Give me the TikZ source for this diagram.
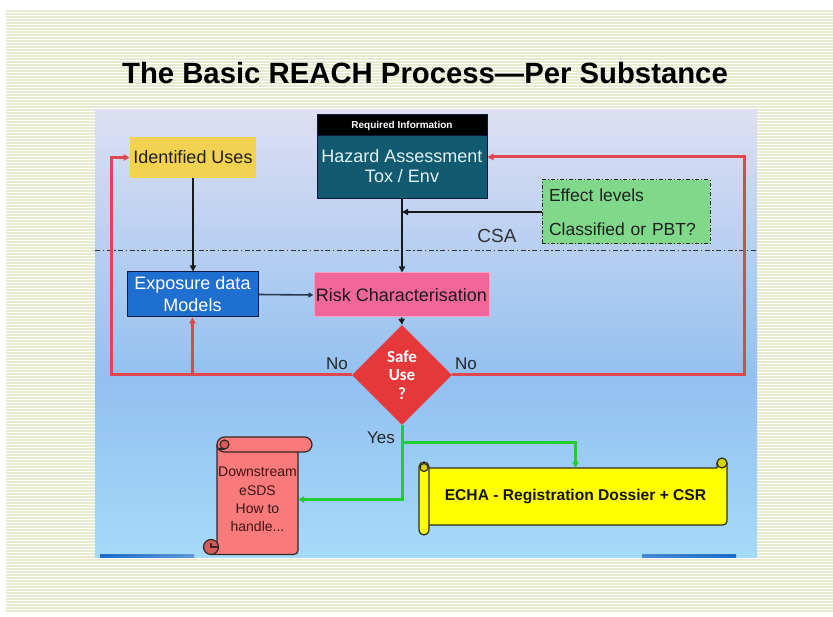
\documentclass[tikz,border=0pt]{standalone}
\usepackage{fontspec}
\setmainfont{Liberation Sans}
\newfontfamily\calfont{Carlito}
\usetikzlibrary{arrows.meta,shapes.geometric}

\definecolor{stripe}{RGB}{230,235,208}
\definecolor{panelTop}{RGB}{222,223,242}
\definecolor{panelMid}{RGB}{146,192,240}
\definecolor{panelBot}{RGB}{166,218,250}
\definecolor{iufill}{RGB}{242,210,80}
\definecolor{hazfill}{RGB}{18,90,112}
\definecolor{hazline}{RGB}{12,24,60}
\definecolor{haztext}{RGB}{226,242,244}
\definecolor{efffill}{RGB}{128,217,138}
\definecolor{expfill}{RGB}{31,111,208}
\definecolor{riskfill}{RGB}{242,103,154}
\definecolor{riskline}{RGB}{248,160,192}
\definecolor{safefill}{RGB}{228,56,58}
\definecolor{redline}{RGB}{224,70,78}
\definecolor{greenline}{RGB}{34,204,51}
\definecolor{slate}{RGB}{40,56,80}
\definecolor{downfill}{RGB}{248,122,122}
\definecolor{downdark}{RGB}{214,92,92}
\definecolor{downtext}{RGB}{60,20,20}
\definecolor{echafill}{RGB}{255,255,0}
\definecolor{echadark}{RGB}{212,212,0}
\definecolor{scrollline}{RGB}{50,40,40}
\definecolor{barblue}{RGB}{26,108,200}

\tikzset{
  box/.style={draw=hazline, line width=1pt, inner sep=0pt, align=center,
              font=\fontsize{18}{22}\selectfont},
  lbl/.style={inner sep=0pt, font=\fontsize{17}{20}\selectfont, text=black!85},
  blk/.style={draw=black!90, line width=2.2pt, -{Triangle[length=6pt,width=6pt]}},
  blkthin/.style={draw=slate, line width=1.6pt, -{Triangle[length=5pt,width=5pt]}},
  redarr/.style={draw=redline, line width=3pt, -{Triangle[length=6pt,width=6.5pt]}},
  grnarr/.style={draw=greenline, line width=3pt, -{Triangle[length=6pt,width=6.5pt]}},
  sc/.style={draw=scrollline, line width=1.2pt},
  dashdot/.style={dash pattern=on 4pt off 2pt on 1pt off 2pt},
}

\begin{document}
\begin{tikzpicture}[x=1pt,y=-1pt]
\useasboundingbox (0,0) rectangle (833,617);

% striped slide background
\fill[white] (0,0) rectangle (833,617);
\foreach \yy in {11,14,...,611}
  \draw[stripe, line width=1.5pt] (6,\yy) -- (833,\yy);

% title
\node (title) at (425,73)
  {\fontsize{29.3}{32}\selectfont\bfseries The Basic REACH Process\kern0pt---Per Substance};

% diagram panel: two-stage vertical gradient
\shade[top color=panelTop, bottom color=panelMid] (95,110) rectangle (757,380.5);
\shade[top color=panelMid, bottom color=panelBot] (95,380) rectangle (757,557);
\shade[left color=barblue, right color=barblue!70!white] (100,554) rectangle (194,557);
\shade[left color=barblue!80!white, right color=barblue] (642,554) rectangle (736,557);

% CSA boundary
\draw[black!80, line width=0.9pt, dash pattern=on 5pt off 2.5pt on 1.5pt off 2.5pt]
  (95,250) -- (757,250);
\node[inner sep=0pt, text=black!80, font=\fontsize{19}{22}\selectfont] (csa) at (497,236) {CSA};

% boxes
\node[box, draw=none, fill=iufill, minimum width=126pt, minimum height=41pt, text=black!88]
  (iu) at (193,157.5) {Identified Uses};

\node[box, fill=hazfill, minimum width=170pt, minimum height=84pt] (haz) at (402,157) {};
\node[box, fill=black, minimum width=170pt, minimum height=21pt,
      font=\fontsize{10}{12}\selectfont\bfseries, text=white] (hazhead) at (402,125.5)
  {Required Information};
\node[inner sep=0pt, align=center, text=haztext, font=\fontsize{18}{20}\selectfont]
  (haztext) at (402,166.5) {Hazard Assessment\\Tox / Env};

\node[draw=black!85, line width=1pt, dashdot, fill=efffill, inner xsep=7pt, inner ysep=0pt,
      text width=154pt, minimum height=64pt, align=left,
      font=\fontsize{17.5}{34}\selectfont, text=black!88]
  (eff) at (626,212) {Effect levels\\Classified or PBT?};

\node[box, fill=expfill, text=white, minimum width=131pt, minimum height=45pt]
  (exp) at (192.5,294.5) {Exposure data\\Models};

\node[box, draw=riskline, fill=riskfill, text=black!90, minimum width=175pt, minimum height=44pt]
  (risk) at (401.5,295) {Risk Characterisation};

\node[diamond, aspect=1, fill=safefill, inner sep=0pt, minimum width=100pt, minimum height=100pt,
      align=center, text=white, font=\calfont\bfseries\fontsize{17}{18.5}\selectfont]
  (safe) at (402,375) {Safe\\Use\\?};

\node[lbl] (nol) at (337,364) {No};
\node[lbl] (nor) at (466,364) {No};
\node[lbl] (yes) at (381,438) {Yes};

% downstream scroll
\draw[sc, fill=downfill] (217,445) -- (217,547) -- (211,554.5)
  [rounded corners=4pt] -- (298,554.5) -- (298,445) [sharp corners] -- cycle;
\draw[sc, fill=downdark] (211,547) circle (7.5);
\draw[sc] (211,543) -- (211,547) -- (218,547);
\draw[sc, fill=downfill, rounded corners=7.5pt] (217,437) rectangle (312,452);
\draw[sc, fill=downdark] (224.5,444.5) circle (4.5);
\draw[sc] (224.5,449) -- (217.5,449);
\node[inner sep=0pt, minimum width=81pt, minimum height=109pt, align=center, text=downtext,
      font=\fontsize{14}{18.3}\selectfont]
  (down) at (257.5,499.5) {Downstream\\eSDS\\How to\\handle...};

% ECHA scroll
\draw[sc, fill=echafill] (424,468) -- (717,468) -- (717,463) -- (727,463)
  [rounded corners=4pt] -- (727,525) -- (424,525) [sharp corners] -- cycle;
\draw[sc, fill=echadark] (722,463) circle (5);
\draw[sc, fill=echafill, rounded corners=5pt] (419,462) rectangle (429,535);
\draw[sc, fill=echadark] (424,467.5) circle (4);
\node[inner sep=0pt, minimum width=303pt, minimum height=57pt,
      font=\fontsize{15.6}{18}\selectfont\bfseries, text=black!92]
  (echa) at (575.5,496.5) {ECHA - Registration Dossier + CSR};

% helper x positions for the feedback loops
\coordinate (lx) at (111,0);
\coordinate (rx) at (744,0);

% black flow
\draw[blk] (iu.south) -- (iu.south |- exp.north);
\draw[blk] (haz.south) -- (haz.south |- risk.north);
\draw[blk] (eff.west) -- (eff.west -| haz.south);
\draw[blkthin] (exp.east) -- (risk.west);
\draw[blk, line width=1.6pt] (risk.south) -- (safe.north);

% red feedback loops
\draw[redarr] (safe.west) -- (safe.west -| lx) |- (iu.west);
\draw[redarr] (exp.south |- safe.west) -- (exp.south);
\draw[redarr] (safe.east) -- (safe.east -| rx) |- (haz.east);

% green outcomes
\draw[grnarr] (safe.south) -- ++(0,17) -| (echa.north);
\draw[grnarr] (safe.south) |- (down.east);
\end{tikzpicture}
\end{document}
